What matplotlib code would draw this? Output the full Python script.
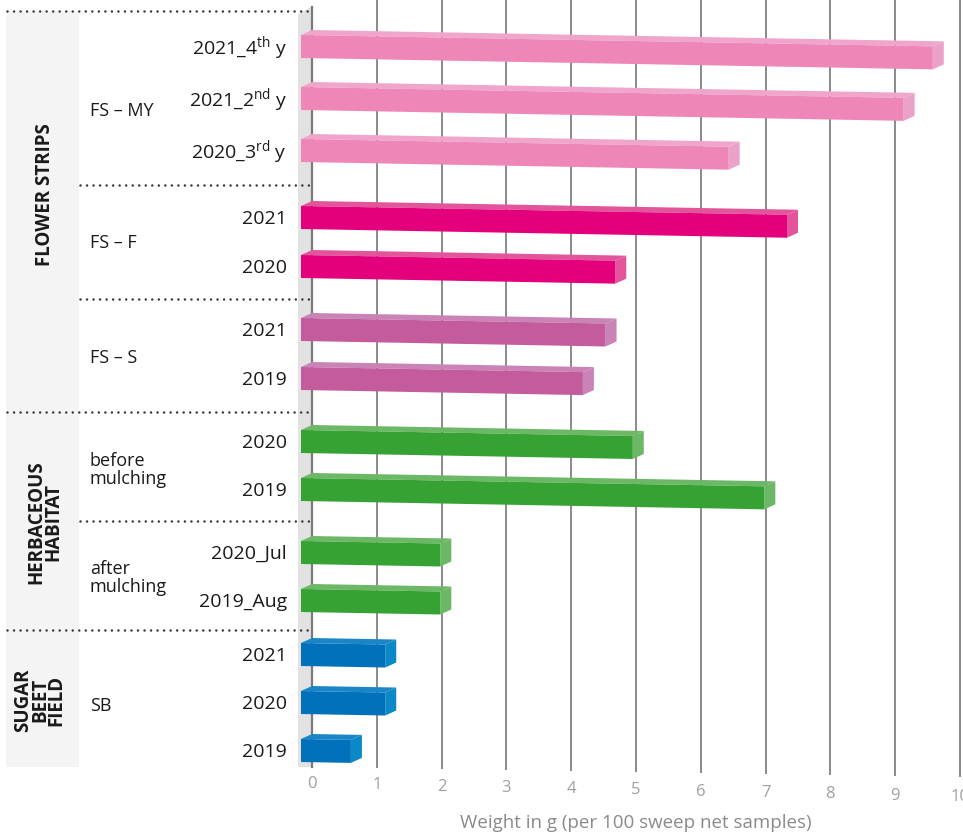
import matplotlib
matplotlib.use("Agg")
import matplotlib.pyplot as plt
from matplotlib.patches import Polygon, Rectangle

plt.rcParams['font.family'] = ['Open Sans', 'DejaVu Sans']
plt.rcParams['mathtext.fontset'] = 'custom'
plt.rcParams['mathtext.rm'] = 'Open Sans'
plt.rcParams['mathtext.it'] = 'Open Sans:italic'
plt.rcParams['mathtext.bf'] = 'Open Sans:bold'
plt.rcParams['mathtext.default'] = 'regular'

# ---------------- data ----------------
row_labels = [r"2021_4$^{\rm th}$ y", r"2021_2$^{\rm nd}$ y", r"2020_3$^{\rm rd}$ y",
              "2021", "2020",
              "2021", "2019",
              "2020", "2019",
              "2020_Jul", "2019_Aug",
              "2021", "2020", "2019"]
values = [9.75, 9.3, 6.6,
          7.5, 4.85,
          4.7, 4.35,
          5.12, 7.15,
          2.15, 2.15,
          1.3, 1.3, 0.77]
row_series = ["FS-MY", "FS-MY", "FS-MY", "FS-F", "FS-F", "FS-S", "FS-S",
              "HH", "HH", "HH", "HH", "SB", "SB", "SB"]
subgroup_labels = ["FS – MY", "FS – F", "FS – S", "before\nmulching", "after\nmulching", "SB"]
group_labels = ["FLOWER STRIPS", "HERBACEOUS\nHABITAT", "SUGAR\nBEET\nFIELD"]
x_ticks = list(range(0, 11))
x_label = "Weight in g (per 100 sweep net samples)"

# ---------------- layout / style ----------------
colors = {  # front, top, side
    "FS-MY": ("#ee87b7", "#efa6ca", "#eba2c9"),
    "FS-F": ("#e4007d", "#e3559b", "#e3559b"),
    "FS-S": ("#c45b9c", "#c983b6", "#c983b6"),
    "HH": ("#37a234", "#6cb866", "#6cb866"),
    "SB": ("#0071ba", "#1a86c8", "#0a88c8"),
}
row_y = [48, 100, 152, 219, 268, 331, 380, 443, 491, 554, 602, 656, 704, 752]
sub_y = [111, 243, 358, 470, 578, 706]
grp_y = [195, 522, 700]
grp_x = [45, 45, 40]
major_sep = [12, 413, 631]
minor_sep = [186, 300, 522]
panel_bottom = 768

W, H = 963, 837
X0PX = 312.0   # pixel of value 0
PXU = 64.8     # pixels per unit


def px(xp):
    return (xp - X0PX) / PXU


fig = plt.figure(figsize=(W / 100, H / 100), dpi=100)
ax = fig.add_axes([0, 0, 1, 1])
ax.set_xlim(px(0), px(W))
ax.set_ylim(H, 0)
ax.axis('off')

# left gray panel
ax.add_patch(Rectangle((px(6), major_sep[0]), px(79) - px(6), panel_bottom - major_sep[0],
                       facecolor="#f4f4f4", edgecolor="none", zorder=0))

# gridlines + ticks
for v in x_ticks:
    if v == 0:
        continue
    ax.plot([v, v], [0, 768 + 1.0 * v], color="#8a8a8a", lw=1.4, zorder=1,
            solid_capstyle='butt')
for v in x_ticks:
    ax.text(v, 784 + 1.3 * v, str(v), ha='center', va='center', fontsize=12,
            color="#a0a0a0")
ax.text(px(636), 823, x_label, ha='center', va='center', fontsize=13.5,
        color="#8a8a8a")

# wall
ax.add_patch(Polygon([(px(298), 15), (px(311), 8), (px(311), panel_bottom), (px(298), panel_bottom)],
                     closed=True, facecolor="#e2e2e2", edgecolor="none", zorder=1))
ax.plot([0, 0], [8, panel_bottom], color="#7a7a7a", lw=1.6, zorder=2)

# dotted separators
dot_kw = dict(color="#333333", lw=1.8, linestyle=(0, (0.01, 2.6)), dash_capstyle='round', zorder=3)
for y in major_sep:
    ax.plot([px(7), px(311)], [y, y], **dot_kw)
for y in minor_sep:
    ax.plot([px(80), px(311)], [y, y], **dot_kw)

# bars (pseudo 3D)
dx = 11 / PXU
dy = 5
hgt = 23
skew = 0.018 * PXU   # px of drop per data unit
for lab, v, s, yc in zip(row_labels, values, row_series, row_y):
    front, top, side = colors[s]
    yt0 = yc - 12
    yb0 = yt0 + hgt
    k = skew * v
    ax.add_patch(Polygon([(-dx, yt0), (v - dx, yt0 + k), (v, yt0 + k - dy), (0, yt0 - dy)],
                         closed=True, facecolor=top, edgecolor="none", zorder=4))
    ax.add_patch(Polygon([(v - dx, yt0 + k), (v, yt0 + k - dy), (v, yb0 + k - dy), (v - dx, yb0 + k)],
                         closed=True, facecolor=side, edgecolor="none", zorder=4))
    ax.add_patch(Polygon([(-dx, yt0), (v - dx, yt0 + k), (v - dx, yb0 + k), (-dx, yb0)],
                         closed=True, facecolor=front, edgecolor="none", zorder=5))
    ax.text(px(287), yc, lab, ha='right', va='center', fontsize=14, color="#1a1a1a")

for lab, y in zip(subgroup_labels, sub_y):
    ax.text(px(90), y, lab, ha='left', va='center', fontsize=13, color="#1a1a1a",
            linespacing=1.0)

for lab, x, y in zip(group_labels, grp_x, grp_y):
    ax.text(px(x), y, lab, ha='center', va='center', fontsize=13.5, color="#1a1a1a",
            fontweight='bold', rotation=90, linespacing=0.78, multialignment='center')

fig.savefig("out.png", dpi=100)
